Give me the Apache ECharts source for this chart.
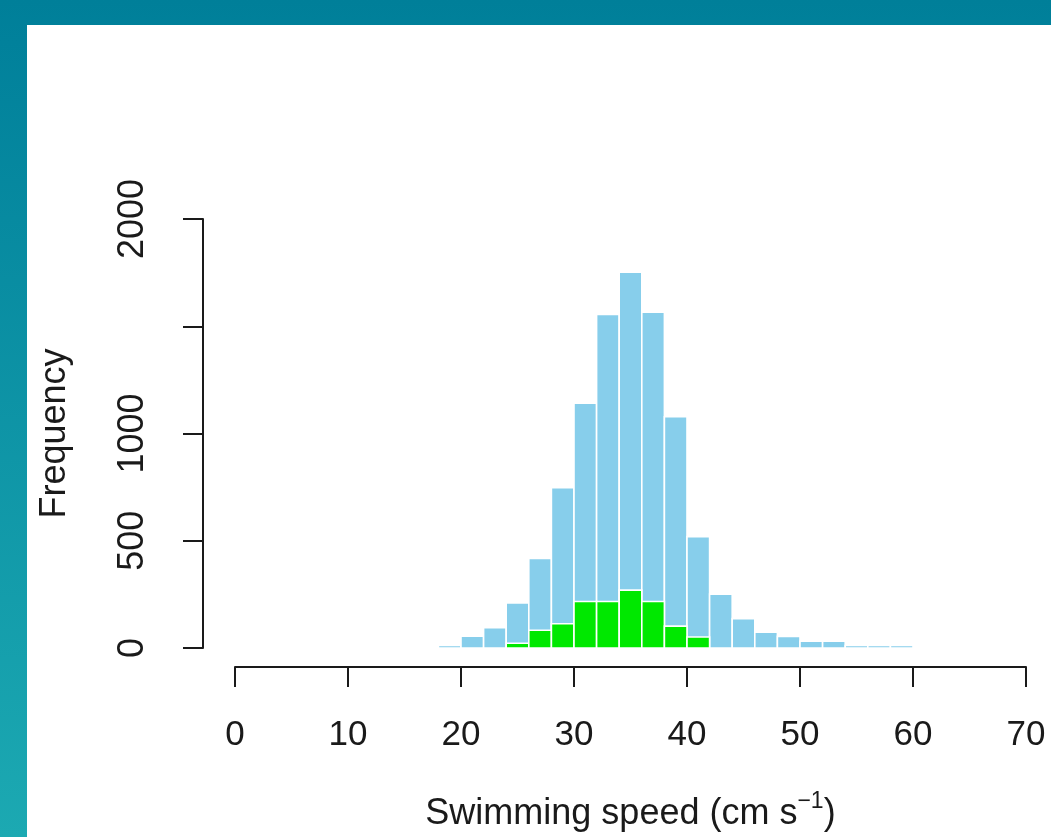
<!DOCTYPE html>
<html>
<head>
<meta charset="utf-8">
<script src="https://cdn.jsdelivr.net/npm/echarts@6/dist/echarts.min.js"></script>
<style>
html,body{margin:0;padding:0;width:1051px;height:837px;overflow:hidden;}
#chart{width:1051px;height:837px;}
</style>
</head>
<body>
<div id="chart"></div>
<script>
// Histogram bins (left edge, right edge) in cm/s
const binStarts = [18, 20, 22, 24, 26, 28, 30, 32, 34, 36, 38, 40, 42, 44, 46, 48, 50, 52, 54, 56, 58];
const binEnds   = [20, 22, 24, 26, 28, 30, 32, 34, 36, 38, 40, 42, 44, 46, 48, 50, 52, 54, 56, 58, 60];
// All observations (sky blue)
const allCounts = [12, 55, 95, 210, 418, 747, 1141, 1555, 1752, 1566, 1078, 519, 251, 137, 74, 54, 32, 32, 12, 12, 12];
// Subset (green)
const subStarts = [24, 26, 28, 30, 32, 34, 36, 38, 40];
const subEnds   = [26, 28, 30, 32, 34, 36, 38, 40, 42];
const subCounts = [22, 83, 113, 217, 217, 270, 217, 102, 51];
// Axis ticks
const xTicks = [0, 10, 20, 30, 40, 50, 60, 70];
const yTicks = [0, 500, 1000, 1500, 2000];
const yTickLabels = ['0', '500', '1000', '', '2000'];

const FONT = "'Liberation Sans', Arial, Helvetica, sans-serif";
const AXIS_COLOR = '#1a1a1a';

function renderBars(params, api) {
  const p0 = api.coord([api.value(0), 0]);
  const p1 = api.coord([api.value(1), api.value(2)]);
  return {
    type: 'rect',
    shape: { x: p0[0], y: p1[1], width: p1[0] - p0[0], height: p0[1] - p1[1] },
    style: { fill: api.visual('color'), stroke: '#ffffff', lineWidth: 1.6 }
  };
}

const allData = binStarts.map((s, i) => [s, binEnds[i], allCounts[i]]);
const subData = subStarts.map((s, i) => [s, subEnds[i], subCounts[i]]);

const chart = echarts.init(document.getElementById('chart'), null, { renderer: 'canvas' });
chart.setOption({
  backgroundColor: {
    type: 'linear', x: 0, y: 0, x2: 0, y2: 1,
    colorStops: [{ offset: 0, color: '#007f99' }, { offset: 0.05, color: '#01819b' }, { offset: 1, color: '#1ca9b2' }]
  },
  animation: false,
  graphic: [{
    type: 'rect', left: 27, top: 25, z: -10,
    shape: { width: 1024, height: 812 },
    style: { fill: '#ffffff' }
  }],
  grid: { left: 235, right: 25, top: 219, bottom: 186, containLabel: false },
  xAxis: {
    type: 'value', min: 0, max: 70, interval: 10, offset: 19,
    axisLine: { show: true, onZero: false, lineStyle: { color: AXIS_COLOR, width: 2 } },
    axisTick: { show: true, length: 20, lineStyle: { color: AXIS_COLOR, width: 2 } },
    splitLine: { show: false },
    axisLabel: { margin: 51, fontFamily: FONT, fontSize: 35, color: '#1a1a1a' },
    name: '{a|Swimming speed (cm s}{s|−1}{a|)}',
    nameLocation: 'middle', nameGap: 123,
    nameTextStyle: {
      rich: {
        a: { fontFamily: FONT, fontSize: 36, color: '#1a1a1a', verticalAlign: 'bottom', lineHeight: 42 },
        s: { fontFamily: FONT, fontSize: 23, color: '#1a1a1a', verticalAlign: 'top', lineHeight: 42, padding: [0, 0, 18, 0] }
      }
    }
  },
  yAxis: {
    type: 'value', min: 0, max: 2000, interval: 500, offset: 32,
    axisLine: { show: true, onZero: false, lineStyle: { color: AXIS_COLOR, width: 2 } },
    axisTick: { show: true, length: 20, lineStyle: { color: AXIS_COLOR, width: 2 } },
    splitLine: { show: false },
    axisLabel: {
      rotate: 90, margin: 52, fontFamily: FONT, fontSize: 36, color: '#1a1a1a',
      formatter: v => { const i = yTicks.indexOf(v); return i >= 0 ? yTickLabels[i] : ''; }
    },
    name: 'Frequency', nameLocation: 'middle', nameGap: 130,
    nameTextStyle: { fontFamily: FONT, fontSize: 36, color: '#1a1a1a' }
  },
  series: [
    { type: 'custom', name: 'all', renderItem: renderBars, data: allData,
      itemStyle: { color: '#87ceeb' }, encode: { x: [0, 1], y: 2 }, z: 2 },
    { type: 'custom', name: 'subset', renderItem: renderBars, data: subData,
      itemStyle: { color: '#00e800' }, encode: { x: [0, 1], y: 2 }, z: 3 }
  ]
});
</script>
</body>
</html>
